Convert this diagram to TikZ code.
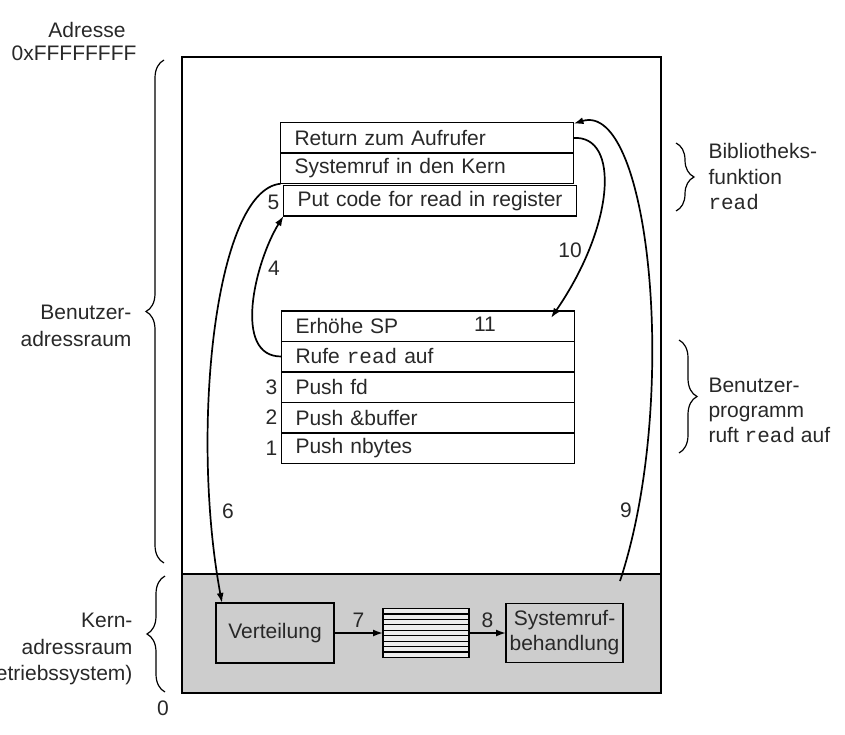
\documentclass[tikz,border=0pt]{standalone}
\usepackage{fontspec}
\setmainfont{Liberation Sans}
\setmonofont{Liberation Mono}
\usetikzlibrary{positioning,arrows.meta,decorations.pathreplacing}

\definecolor{kerngrau}{RGB}{205,205,205}
\definecolor{schrift}{RGB}{40,40,40}

\tikzset{
  zeile/.style={draw,line width=1.5pt,outer sep=0pt,text width=265pt,inner xsep=14pt,
    inner ysep=0pt,minimum height=30.5pt,align=left},
  kasten/.style={draw,line width=1.5pt,fill=kerngrau,outer sep=0pt,inner sep=2pt,align=center},
  pfeil/.style={-{Latex[length=10pt,width=7pt]},line width=1.7pt},
  klammer/.style={decorate,decoration={brace,amplitude=18pt},line width=1.2pt},
  nummer/.style={inner sep=1pt}
}

\begin{document}
\begin{tikzpicture}[x=1pt,y=-1pt,
    every node/.style={font=\fontsize{21}{25.5}\selectfont,text=schrift}]
  \useasboundingbox (0,0) rectangle (845,735);

  % Kernbereich
  \fill[kerngrau] (182,574) rectangle (661,693);
  \draw[line width=1.5pt] (182,574) -- (661,574);
  \draw[line width=2pt] (182,57) rectangle (661,693);

  % Bibliotheksfunktion read
  \node[zeile] (ret) at (427,138) {Return zum Aufrufer};
  \node[zeile] (sys) [below=0pt of ret] {Systemruf in den Kern};
  \node[zeile] (put) [below=1.7pt of sys,xshift=3pt] {Put code for read in register};
  \node[nummer] (n5) [left=3pt of put.west,yshift=-2pt] {5};

  % Benutzerprogramm
  \node[zeile] (esp) at (428,326) {Erh\"ohe SP};
  \node[zeile] (rufe) [below=0pt of esp] {Rufe \texttt{read} auf};
  \node[zeile] (pfd) [below=0pt of rufe] {Push fd};
  \node[zeile] (pbuf) [below=0pt of pfd] {Push \&buffer};
  \node[zeile] (pnb) [below=0pt of pbuf] {Push nbytes};
  \node (n11) at (485,324) {11};
  \node[nummer] (n3) [left=3pt of pfd.west] {3};
  \node[nummer] (n2) [left=3pt of pbuf.west] {2};
  \node[nummer] (n1) [left=3pt of pnb.west] {1};

  % Kern
  \node[kasten,minimum width=118pt,minimum height=60pt] (vert) at (275,633) {Verteilung};
  \node[kasten,fill=kerngrau!35,minimum width=86pt,minimum height=49pt] (hatch) [right=49pt of vert] {};
  \foreach \i in {1,...,8}
    \draw[line width=1.2pt] ([yshift=-\i*5.44pt]hatch.north west) -- ([yshift=-\i*5.44pt]hatch.north east);
  \node[kasten,minimum width=117pt,minimum height=59pt,inner sep=1pt,
    font=\fontsize{21}{25}\selectfont] (sysr) [right=37pt of hatch] {Systemruf-\\behandlung};

  \path[pfeil] (vert) edge node[above=1pt] (n7) {7} (hatch)
               (hatch) edge node[above=1pt] (n8) {8} (sysr);

  % Ablauf
  \coordinate (c9) at (620,581);
  \draw[pfeil] (rufe.west) .. controls (232,357) and (255,262) .. (put.south west);
  \draw[pfeil] (sys.south west) .. controls (215,190) and (190,430) .. ([xshift=6pt]vert.north west);
  \draw[pfeil] (c9) .. controls (680,400) and (650,100) .. ([yshift=-1pt]ret.north east);
  \draw[pfeil] (ret.east) .. controls (620,135) and (615,225) .. (551,318);
  \node (n4) at (274,268) {4};
  \node (n6) at (228,511) {6};
  \node (n9) at (626,510) {9};
  \node (n10) at (570,250) {10};

  % Klammern links
  \draw[klammer] (164,563) -- (164,60);
  \draw[klammer] (165,692) -- (165,576);
  \node (adr) at (87,30) {Adresse};
  \node (ffff) at (74,53) {0xFFFFFFFF};
  \node (null) at (163,708) {0};
  \node[align=right,anchor=east,font=\fontsize{21}{27}\selectfont] (benadr) at (135,326) {Benutzer-\\adressraum};
  \node[align=right,anchor=east,font=\fontsize{21}{26.5}\selectfont] (kernadr) at (136,649) {Kern-\\adressraum\\(Betriebssystem)};

  % Klammern rechts
  \draw[klammer] (676,143) -- (676,211);
  \draw[klammer] (679,340) -- (679,453);
  \node[align=left,anchor=west] (bib) at (705,177) {Bibliotheks-\\funktion\\\texttt{read}};
  \node[align=left,anchor=west,font=\fontsize{21}{25}\selectfont] (benprog) at (705,410) {Benutzer-\\programm\\ruft \texttt{read} auf};
\end{tikzpicture}
\end{document}
